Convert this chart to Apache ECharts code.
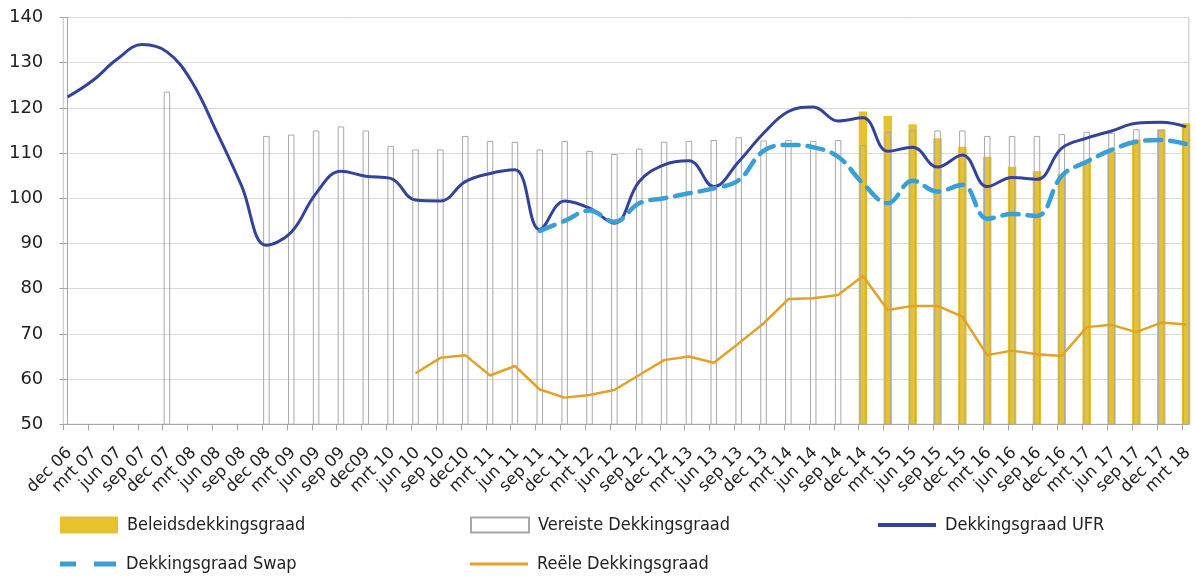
<!DOCTYPE html>
<html>
<head>
<meta charset="utf-8">
<script src="https://cdn.jsdelivr.net/npm/echarts@6/dist/echarts.min.js"></script>
<style>
html,body{margin:0;padding:0;background:#fff;}
#chart{width:1196px;height:578px;}
</style>
</head>
<body>
<div id="chart"></div>
<script>
const categories = ['dec 06','mrt 07','jun 07','sep 07','dec 07','mrt 08','jun 08','sep 08','dec 08','mrt 09','jun 09','sep 09','dec09','mrt 10','jun 10','sep 10','dec10','mrt 11','jun 11','sep 11','dec 11','mrt 12','jun 12','sep 12','dec 12','mrt 13','jun 13','sep 13','dec 13','mrt 14','jun 14','sep 14','dec 14','mrt 15','jun 15','sep 15','dec 15','mrt 16','jun 16','sep 16','dec 16','mrt 17','jun 17','sep 17','dec 17','mrt 18'];

const beleids = [null,null,null,null,null,null,null,null,null,null,null,null,null,null,null,null,null,null,null,null,null,null,null,null,null,null,null,null,null,null,null,null,
  119.2,118.2,116.4,113.3,111.4,109.2,107.0,106.0,105.4,108.1,110.3,113.0,115.3,116.6];

const vereiste = [null,null,null,null,123.6,null,null,null,113.8,114.1,115.0,115.9,115.0,111.6,110.8,110.8,113.8,112.7,112.5,110.8,112.7,110.5,109.8,111.0,112.5,112.7,112.9,113.5,112.8,112.9,112.7,112.9,
  111.8,114.7,115.1,115.0,115.0,113.8,113.8,113.8,114.2,114.7,114.5,115.3,115.1,116.2];

const ufr = [122.4,126.0,130.8,134.0,132.4,125.8,114.7,102.8,89.6,92.5,101.1,106.0,104.9,104.4,99.6,99.4,103.7,105.5,106.3,93.1,99.4,97.8,94.5,103.7,107.4,108.3,102.6,108.1,114.4,119.2,120.2,117.1,
  117.8,110.4,111.3,106.9,109.6,102.6,104.6,104.2,111.1,113.3,114.9,116.6,116.8,115.8];

const swap = [null,null,null,null,null,null,null,null,null,null,null,null,null,null,null,null,null,null,null,92.8,95.0,97.3,94.8,98.9,100.0,101.1,102.2,104.0,110.5,111.8,111.3,109.2,
  103.3,98.9,103.9,101.5,103.0,95.5,96.5,96.1,105.0,108.1,110.7,112.5,112.9,112.0];

const reele = [null,null,null,null,null,null,null,null,null,null,null,null,null,null,61.3,64.7,65.3,60.8,62.9,57.7,55.9,56.5,57.6,60.9,64.2,65.0,63.6,67.9,72.3,77.7,77.9,78.6,
  82.8,75.3,76.2,76.2,73.8,65.3,66.3,65.5,65.1,71.5,72.0,70.4,72.5,72.1];

const yTicks = [50, 140, 10];

const OFF = 0.17;
const toPts = arr => arr.map((v, i) => [i, v]);

const chart = echarts.init(document.getElementById('chart'), null, {renderer: 'canvas'});

const xBase = {
  type: 'value',
  min: -OFF,
  max: categories.length - 1 + 0.11,
  interval: 1,
  splitLine: {show: false}
};

const legendText = {fontFamily: '"DejaVu Sans Condensed", "Liberation Sans", Arial, sans-serif', fontSize: 18, color: '#222', padding: [0,0,0,4]};

function mkLegend(name, left, top, icon, h) {
  return {
    data: [{name: name, icon: icon}], left: left, top: top, itemWidth: 58, itemHeight: h,
    textStyle: legendText, selectedMode: false, padding: 0
  };
}

chart.setOption({
  animation: false,
  backgroundColor: '#ffffff',
  grid: {left: 63.3, right: 6.5, top: 17.5, bottom: 153.7, show: true, borderColor: '#c4c4c4', borderWidth: 1, backgroundColor: 'transparent'},
  legend: [
    mkLegend('Beleidsdekkingsgraad', 60, 516, 'rect', 17),
    mkLegend('Vereiste Dekkingsgraad', 470, 516, 'rect', 15),
    mkLegend('Dekkingsgraad UFR', 878, 516, 'path://M0,0h58v4h-58z', 4),
    mkLegend('Dekkingsgraad Swap', 60, 555, 'path://M2,0h16v5h-16z M36,0h22v5h-22z', 5),
    mkLegend('Reële Dekkingsgraad', 470, 555, 'path://M0,0h58v3h-58z', 3)
  ],
  xAxis: [
    Object.assign({}, xBase, {
      axisLine: {show: true, lineStyle: {color: '#a6a6a6', width: 1}},
      axisTick: {show: true, length: 6, lineStyle: {color: '#a6a6a6'}},
      axisLabel: {
        show: true, rotate: 45, margin: 20, fontSize: 16.5, verticalAlign: 'top',
        fontFamily: '"DejaVu Sans", sans-serif', color: '#222',
        showMaxLabel: false,
        formatter: v => { const i = Math.round(v + OFF); return (i >= 0 && i < categories.length && Math.abs(v + OFF - i) < 0.05) ? categories[i] : ''; }
      }
    }),
    Object.assign({}, xBase, {show: false})
  ],
  yAxis: {
    type: 'value', min: yTicks[0], max: yTicks[1], interval: yTicks[2],
    axisLine: {show: true, lineStyle: {color: '#a6a6a6'}},
    axisTick: {show: true, length: 8, lineStyle: {color: '#a6a6a6'}},
    axisLabel: {margin: 20, fontSize: 18, fontFamily: '"DejaVu Sans", sans-serif', color: '#222'},
    splitLine: {lineStyle: {color: '#d9d9d9', width: 1}}
  },
  series: [
    {
      name: 'Beleidsdekkingsgraad', type: 'bar', xAxisIndex: 1,
      data: toPts(beleids), barWidth: 8.5, z: 2,
      itemStyle: {color: '#E6C22E'}
    },
    {
      name: 'Vereiste Dekkingsgraad', type: 'bar', xAxisIndex: 0,
      data: toPts(vereiste), barWidth: 6.5, z: 3,
      itemStyle: {color: 'rgba(255,255,255,0)', borderColor: '#a8a8a8', borderWidth: 1}
    },
    {
      name: 'Dekkingsgraad UFR', type: 'line', xAxisIndex: 0,
      data: toPts(ufr), smooth: 0.4, symbol: 'none', z: 5,
      lineStyle: {color: '#33429A', width: 3},
      itemStyle: {color: '#33429A'}
    },
    {
      name: 'Dekkingsgraad Swap', type: 'line', xAxisIndex: 0,
      data: toPts(swap), smooth: 0.4, symbol: 'none', z: 6,
      lineStyle: {color: '#3A9FD6', width: 4.5, type: [16, 9], cap: 'round'},
      itemStyle: {color: '#3A9FD6'}
    },
    {
      name: 'Reële Dekkingsgraad', type: 'line', xAxisIndex: 0,
      data: toPts(reele), smooth: false, symbol: 'none', z: 4,
      lineStyle: {color: '#E3A126', width: 2.5},
      itemStyle: {color: '#E3A126'}
    }
  ]
});
</script>
</body>
</html>
